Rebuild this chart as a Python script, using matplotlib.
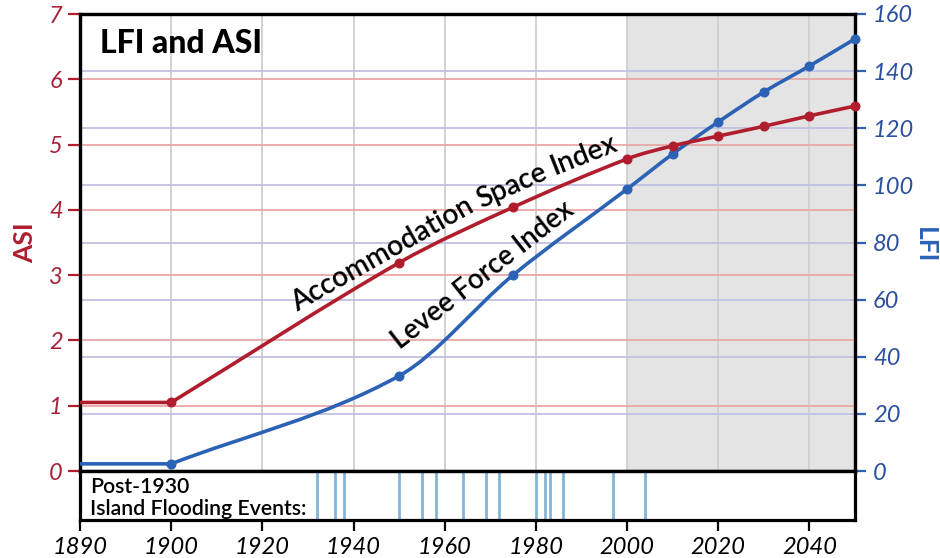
import numpy as np
import matplotlib
matplotlib.use("Agg")
import matplotlib.pyplot as plt
from matplotlib.path import Path
from matplotlib.patches import PathPatch

# ---------------- data ----------------
years = [1890, 1900, 1950, 1975, 2000, 2010, 2020, 2030, 2040, 2050]
asi = [1.05, 1.05, 3.19, 4.04, 4.78, 4.98, 5.13, 5.28, 5.44, 5.59]
lfi = [2.5, 2.5, 33.3, 68.6, 98.7, 111.0, 122.2, 132.7, 141.8, 151.3]
flood_years = [1932, 1936, 1938, 1950, 1955, 1958, 1964, 1969, 1972,
               1980, 1982, 1983, 1986, 1997, 2004]
x_ticks = [1890, 1900, 1920, 1940, 1960, 1980, 2000, 2020, 2040]
asi_ticks = [0, 1, 2, 3, 4, 5, 6, 7]
lfi_ticks = [0, 20, 40, 60, 80, 100, 120, 140, 160]
projection_start = 2000

# ---------------- style ----------------
FONT = ["Lato", "DejaVu Sans"]
plt.rcParams["font.family"] = FONT
RED = "#b01e2e"
RED_TXT = "#a8223a"
BLUE = "#2b62b5"
BLUE_TXT = "#2c4f9e"
RED_GRID = "#e8a8a8"
BLUE_GRID = "#c0c0e2"
VGRID = "#cfcfcf"
SHADE = "#e4e4e4"
EVENT = "#84b6d8"

W, H = 940, 558
fig = plt.figure(figsize=(W / 100, H / 100), dpi=100)

left = 80 / W
right = 855 / W
ax_w = right - left
main_bottom = 1 - 471 / H
main_top = 1 - 14 / H
strip_bottom = 1 - 520 / H


# compress the first decade on the x axis
def fwd(x):
    x = np.asarray(x, dtype=float)
    return np.where(x < 1900, 1900 - (1900 - x) * 2.0, x)


def inv(x):
    x = np.asarray(x, dtype=float)
    return np.where(x < 1900, 1900 - (1900 - x) / 2.0, x)


ax = fig.add_axes([left, main_bottom, ax_w, main_top - main_bottom])
ax2 = ax.twinx()
axs = fig.add_axes([left, strip_bottom, ax_w, main_bottom - strip_bottom], sharex=ax)

ax.set_xscale("function", functions=(fwd, inv))
ax.set_xlim(1890, 2050)
ax.set_ylim(0, 7)
ax2.set_ylim(0, 160)

ax2.set_zorder(0)
ax.set_zorder(1)
ax.patch.set_visible(False)
ax2.patch.set_facecolor("white")

ax2.axvspan(projection_start, 2050, color=SHADE, zorder=0, lw=0)
for xt in x_ticks[1:]:
    ax2.axvline(xt, color=VGRID, lw=1.3, zorder=1)
for yt in lfi_ticks[1:-1]:
    ax2.axhline(yt, color=BLUE_GRID, lw=1.3, zorder=1)
for yt in asi_ticks[1:-1]:
    ax.axhline(yt, color=RED_GRID, lw=1.3, zorder=1)


def smooth_path(xs, ys):
    """Straight first segment, then a smooth cubic Hermite curve through the points."""
    verts = [(xs[0], ys[0]), (xs[1], ys[1])]
    codes = [Path.MOVETO, Path.LINETO]
    px = np.asarray(xs[1:], dtype=float)
    py = np.asarray(ys[1:], dtype=float)
    n = len(px)
    m = np.zeros(n)
    m[0] = (py[1] - py[0]) / (px[1] - px[0])
    m[-1] = (py[-1] - py[-2]) / (px[-1] - px[-2])
    for i in range(1, n - 1):
        m[i] = (py[i + 1] - py[i - 1]) / (px[i + 1] - px[i - 1])
    for i in range(n - 1):
        h = px[i + 1] - px[i]
        c1 = (px[i] + h / 3, py[i] + m[i] * h / 3)
        c2 = (px[i + 1] - h / 3, py[i + 1] - m[i + 1] * h / 3)
        verts += [c1, c2, (px[i + 1], py[i + 1])]
        codes += [Path.CURVE4] * 3
    return Path(verts, codes)


lw = 2.6
pp_b = PathPatch(smooth_path(years, lfi), facecolor="none", edgecolor=BLUE, lw=lw,
                 transform=ax2.transData, zorder=3, capstyle="round", joinstyle="round")
ax.add_patch(pp_b)
ax.plot(years[1:], lfi[1:], "o", color=BLUE, ms=6.2, transform=ax2.transData,
        zorder=4, clip_on=False)

pp_r = PathPatch(smooth_path(years, asi), facecolor="none", edgecolor=RED, lw=lw,
                 transform=ax.transData, zorder=3, capstyle="round", joinstyle="round")
ax.add_patch(pp_r)
ax.plot(years[1:], asi[1:], "o", color=RED, ms=6.2, zorder=4, clip_on=False)
ax.set_ylim(0, 7)
ax.set_xlim(1890, 2050)

for a in (ax, ax2, axs):
    for s in a.spines.values():
        s.set_linewidth(2.3)
        s.set_color("black")

TICK_FS = 17
ax.set_yticks(asi_ticks)
ax.tick_params(axis="y", direction="out", length=9, width=1.6, color=RED,
               labelcolor=RED_TXT, labelsize=TICK_FS, pad=3.5)
ax.tick_params(axis="x", which="both", bottom=False, labelbottom=False)
ax2.set_yticks(lfi_ticks)
ax2.tick_params(axis="y", direction="out", length=8, width=1.6, color=BLUE,
                labelcolor=BLUE_TXT, labelsize=TICK_FS, pad=5)
for lab in ax.get_yticklabels() + ax2.get_yticklabels():
    lab.set_fontstyle("italic")

axs.set_xticks(x_ticks)
axs.set_xticklabels([str(v) for v in x_ticks])
axs.tick_params(axis="x", direction="out", length=8, width=1.6, color="black",
                labelsize=TICK_FS, pad=4)
for lab in axs.get_xticklabels():
    lab.set_fontstyle("italic")
axs.set_yticks([])
axs.set_ylim(0, 1)
axs.set_xlim(1890, 2050)
axs.minorticks_off()
ax.minorticks_off()

for fy in flood_years:
    axs.axvline(fy, color=EVENT, lw=2.0)
FLOOD_FS = 15.3
axs.text(10 / 775, (520 - 493) / 49, "Post-1930", transform=axs.transAxes,
         ha="left", va="baseline", fontsize=FLOOD_FS, fontweight="semibold")
axs.text(10 / 775, (520 - 515) / 49, "Island Flooding Events:", transform=axs.transAxes,
         ha="left", va="baseline", fontsize=FLOOD_FS, fontweight="semibold")

# title
ax.text(20 / 775, (471 - 53) / 457, "LFI and ASI", transform=ax.transAxes,
        ha="left", va="baseline", fontsize=23, fontweight="black", color="black")

# series label following the curve: words flowed one after another
LBL_FS = 20.3
renderer = fig.canvas.get_renderer()
asi_words = ["Accommodation", "Space", "Index"]
asi_angles = [29.5, 24.0, 21.5]
start = ax.transData.transform((1927.6, 2.435))
probe2 = ax.text(0, 0, "a a", fontsize=LBL_FS, fontweight="semibold")
probe3 = ax.text(0, 0, "aa", fontsize=LBL_FS, fontweight="semibold")
space_w = (probe2.get_window_extent(renderer).width
           - probe3.get_window_extent(renderer).width)
for p in (probe2, probe3):
    p.remove()
pos = np.array(start, dtype=float)
for word, rot in zip(asi_words, asi_angles):
    dpos = ax.transData.inverted().transform(pos)
    ax.text(dpos[0], dpos[1], word, rotation=rot, rotation_mode="anchor", ha="left",
            va="baseline", fontsize=LBL_FS, fontweight="semibold", zorder=5)
    tmp = ax.text(0, 0, word, fontsize=LBL_FS, fontweight="semibold")
    wpx = tmp.get_window_extent(renderer).width
    tmp.remove()
    ang = np.deg2rad(rot)
    pos = pos + (wpx + space_w * 0.9) * np.array([np.cos(ang), np.sin(ang)])

ax.text(1950.2, 1.853, "Levee Force Index", rotation=38, rotation_mode="anchor",
        ha="left", va="baseline", fontsize=19.8, fontweight="semibold", zorder=5)

fig.text(25 / W, 1 - 243 / H, "ASI", rotation=90, ha="center", va="center",
         color=RED, fontsize=19, fontweight="bold")
fig.text(925 / W, 1 - 245 / H, "LFI", rotation=-90, ha="center", va="center",
         color=BLUE, fontsize=19, fontweight="bold")

fig.savefig("out.png", dpi=100)
